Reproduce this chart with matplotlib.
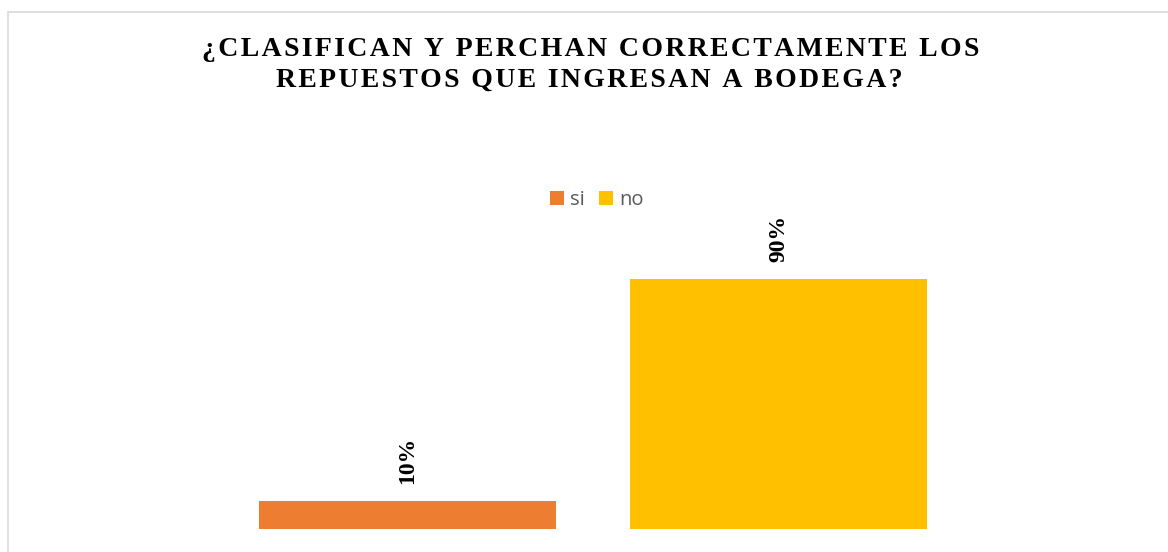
import matplotlib.pyplot as plt
from matplotlib.patches import Patch, Rectangle

# data
categorias = ['si', 'no']
valores = [0.10, 0.90]
etiquetas = ['10%', '90%']
colores = ['#ED7D31', '#FFC000']
titulo_l1 = '¿CLASIFICAN Y PERCHAN CORRECTAMENTE LOS'
titulo_l2 = 'REPUESTOS QUE INGRESAN A BODEGA?'


def espaciar(s):
    # simulate letter spacing with hair spaces
    return '\u200a'.join(s)


W, H = 1168, 552
fig = plt.figure(figsize=(W / 100, H / 100), dpi=100)

# chart border
fig.patches.append(Rectangle((8 / W, -0.05), 1.2, 1 - 12 / H + 0.05, transform=fig.transFigure,
                             fill=False, edgecolor='#D9D9D9', linewidth=1.2))

ax = fig.add_axes([222 / W, (H - 528.7) / H, 742 / W, 277.4 / H])
x = range(len(categorias))
bars = ax.bar(x, valores, width=0.8, color=colores)
ax.set_xlim(-0.5, 1.5)
ax.set_ylim(0, 1)
ax.axis('off')

for b, lab in zip(bars, etiquetas):
    ax.annotate(lab, (b.get_x() + b.get_width() / 2, b.get_height()),
                xytext=(0, 17), textcoords='offset pixels', rotation=90,
                ha='center', va='bottom', fontsize=17, fontweight='bold',
                family='Liberation Serif', color='black')

fig.text(591 / W, 1 - 49 / H, espaciar(titulo_l1), ha='center', va='center',
         fontsize=20, fontweight='bold', family=['Liberation Serif', 'DejaVu Serif'])
fig.text(589 / W, 1 - 80 / H, espaciar(titulo_l2), ha='center', va='center',
         fontsize=20, fontweight='bold', family=['Liberation Serif', 'DejaVu Serif'])

handles = [Patch(facecolor=c, edgecolor='none') for c in colores]
leg = fig.legend(handles, categorias, loc='center', bbox_to_anchor=(597 / W, 1 - 200 / H),
                 ncol=2, frameon=False, handlelength=0.7, handleheight=0.7,
                 handletextpad=0.3, columnspacing=0.7,
                 prop={'family': 'Open Sans', 'size': 14.5})
for t in leg.get_texts():
    t.set_color('#595959')

fig.savefig('out.png', dpi=100)
